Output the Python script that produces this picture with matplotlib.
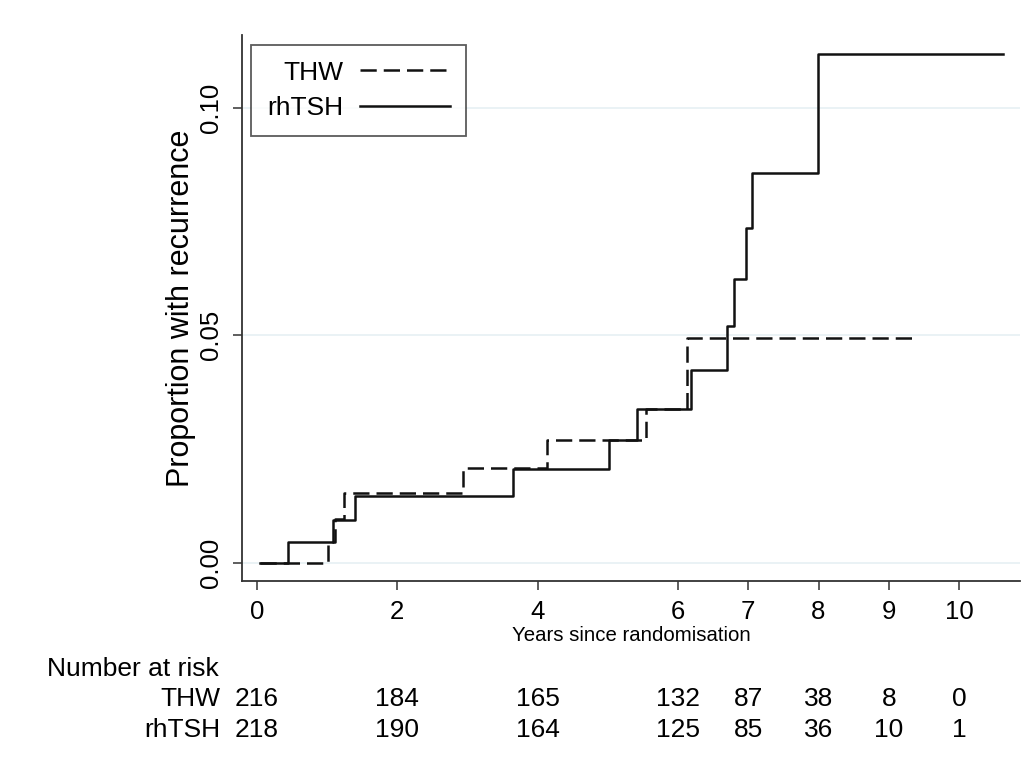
import matplotlib
matplotlib.use("Agg")
import matplotlib.pyplot as plt
from matplotlib.transforms import blended_transform_factory

plt.rcParams["font.family"] = ["Liberation Sans", "DejaVu Sans"]

# Kaplan-Meier style failure curves
thw_t = [0.04, 1.02, 1.12, 1.24, 2.94, 4.14, 5.55, 6.13, 9.37]
thw_p = [0.0, 0.0046, 0.0097, 0.0153, 0.0208, 0.0269, 0.0339, 0.0494, 0.0494]

rh_t = [0.04, 0.45, 1.08, 1.40, 3.65, 5.01, 5.42, 6.18, 6.70, 6.79, 6.97, 7.05, 7.99, 10.63]
rh_p = [0.0, 0.0046, 0.0095, 0.0146, 0.0206, 0.0269, 0.0339, 0.0423, 0.0521,
        0.0623, 0.0736, 0.0857, 0.1119, 0.1119]

# number at risk table
risk_times = [0, 2, 4, 6, 7, 8, 9, 10]
risk_thw = [216, 184, 165, 132, 87, 38, 8, 0]
risk_rh = [218, 190, 164, 125, 85, 36, 10, 1]

y_ticks = [0.0, 0.05, 0.10]
y_labels = ["0.00", "0.05", "0.10"]

fig = plt.figure(figsize=(10.36, 7.6), dpi=100)
ax = fig.add_axes([0.2336, 0.2355, 0.7510, 0.7185])

for y in y_ticks:
    ax.axhline(y, color="#e8f1f4", lw=1.3, zorder=0)

ax.step(thw_t, thw_p, where="post", color="#111111", lw=1.8,
        dashes=(6.5, 2.8), label="THW")
ax.step(rh_t, rh_p, where="post", color="#111111", lw=1.8, label="rhTSH")

ax.set_xlim(-0.21, 10.87)
ax.set_ylim(-0.004, 0.116)
ax.set_xticks(risk_times)
ax.set_xticklabels([str(t) for t in risk_times])
ax.set_yticks(y_ticks)
ax.set_yticklabels(y_labels, rotation=90, va="center")

for side in ["top", "right"]:
    ax.spines[side].set_visible(False)
for side in ["left", "bottom"]:
    ax.spines[side].set_color("#333333")
    ax.spines[side].set_linewidth(1.3)
ax.tick_params(axis="both", length=6.5, width=1.1, color="#333333",
               labelsize=18.5, pad=7)

ax.set_ylabel("Proportion with recurrence", fontsize=22, labelpad=2)
ax.text(0.5, -0.110, "Years since randomisation", transform=ax.transAxes,
        ha="center", va="baseline", fontsize=14.7)

leg = ax.legend(loc="upper left", bbox_to_anchor=(0.0116, 0.982),
                borderaxespad=0, markerfirst=False, fancybox=False,
                edgecolor="#333333", fontsize=19, handlelength=3.4,
                handletextpad=0.65, labelspacing=0.45, borderpad=0.6)
leg.get_frame().set_linewidth(1.3)

# number at risk table
fig.text(0.0454, 0.1105, "Number at risk", fontsize=19, va="baseline")
fig.text(0.2124, 0.0711, "THW", fontsize=19, ha="right", va="baseline")
fig.text(0.2124, 0.0303, "rhTSH", fontsize=19, ha="right", va="baseline")
trans = blended_transform_factory(ax.transData, fig.transFigure)
for t, a, b in zip(risk_times, risk_thw, risk_rh):
    ax.text(t, 0.0711, str(a), transform=trans, ha="center", va="baseline",
            fontsize=19, clip_on=False)
    ax.text(t, 0.0303, str(b), transform=trans, ha="center", va="baseline",
            fontsize=19, clip_on=False)

fig.savefig("out.png", dpi=100, facecolor="white")
